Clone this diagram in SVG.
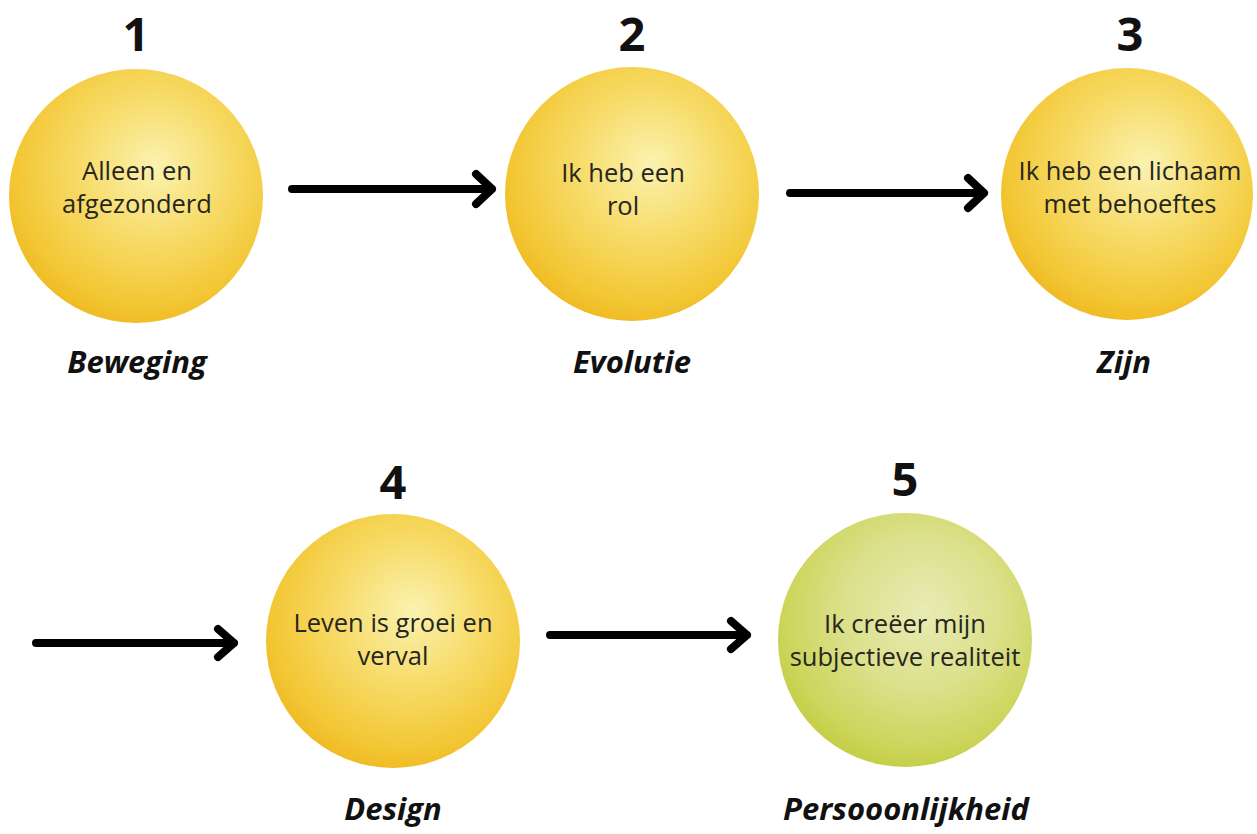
<svg xmlns="http://www.w3.org/2000/svg" width="1257" height="834" viewBox="0 0 1257 834">
  <style>
    .num { font-family: "Open Sans", "Liberation Sans", sans-serif; font-weight: 700; font-size: 47px; fill: #111; text-anchor: middle; }
    .lbl { font-family: "Open Sans", "Liberation Sans", sans-serif; font-weight: 700; font-style: italic; font-size: 31px; fill: #111; text-anchor: middle; }
    .txt { font-family: "Open Sans", "Liberation Sans", sans-serif; font-size: 25.5px; fill: #26261e; text-anchor: middle; }
    .yel { fill: url(#gy); }
    .grn { fill: url(#gg); }
    .arr { stroke: #000; stroke-width: 8; fill: none; stroke-linecap: round; stroke-linejoin: round; }
  </style>
  <defs>
    <radialGradient id="gy" cx="0.55" cy="0.4" r="0.62" fx="0.58" fy="0.38">
      <stop offset="0" stop-color="#faf2b0"/>
      <stop offset="0.45" stop-color="#f7dc6a"/>
      <stop offset="0.85" stop-color="#f3c735"/>
      <stop offset="1" stop-color="#efba22"/>
    </radialGradient>
    <radialGradient id="gg" cx="0.55" cy="0.4" r="0.62" fx="0.58" fy="0.38">
      <stop offset="0" stop-color="#e8ebb4"/>
      <stop offset="0.5" stop-color="#dbe08a"/>
      <stop offset="0.85" stop-color="#cdd55c"/>
      <stop offset="1" stop-color="#c3ce44"/>
    </radialGradient>
  </defs>
  <rect width="1257" height="834" fill="#fff"/>

  <g id="connectors">
    <path class="arr" d="M292 189 H492 M476 174 L492 189 L476 204"/>
    <path class="arr" d="M790 193 H984 M968 178 L984 193 L968 208"/>
    <path class="arr" d="M36 643 H234 M218 629 L234 643 L218 657"/>
    <path class="arr" d="M550 635 H747 M731 621 L747 635 L731 649"/>
  </g>

  <g id="node1">
    <text class="num" x="136" y="51">1</text>
    <circle class="yel" cx="136" cy="196" r="127"/>
    <text class="txt" x="137" y="180">Alleen en</text>
    <text class="txt" x="137" y="213">afgezonderd</text>
    <text class="lbl" x="137" y="373">Beweging</text>
  </g>

  <g id="node2">
    <text class="num" x="632" y="51">2</text>
    <circle class="yel" cx="632" cy="194" r="127"/>
    <text class="txt" x="623" y="182">Ik heb een</text>
    <text class="txt" x="623" y="215">rol</text>
    <text class="lbl" x="632" y="373">Evolutie</text>
  </g>

  <g id="node3">
    <text class="num" x="1130" y="51">3</text>
    <circle class="yel" cx="1127" cy="194" r="126"/>
    <text class="txt" x="1130" y="180">Ik heb een lichaam</text>
    <text class="txt" x="1130" y="213">met behoeftes</text>
    <text class="lbl" x="1124" y="373">Zijn</text>
  </g>

  <g id="node4">
    <text class="num" x="393" y="499">4</text>
    <circle class="yel" cx="393" cy="641" r="127"/>
    <text class="txt" x="393" y="632">Leven is groei en</text>
    <text class="txt" x="393" y="665">verval</text>
    <text class="lbl" x="393" y="820">Design</text>
  </g>

  <g id="node5">
    <text class="num" x="905" y="496">5</text>
    <circle class="grn" cx="905" cy="640" r="127"/>
    <text class="txt" x="905" y="633">Ik creëer mijn</text>
    <text class="txt" x="905" y="666">subjectieve realiteit</text>
    <text class="lbl" x="906" y="820">Persooonlijkheid</text>
  </g>
</svg>
